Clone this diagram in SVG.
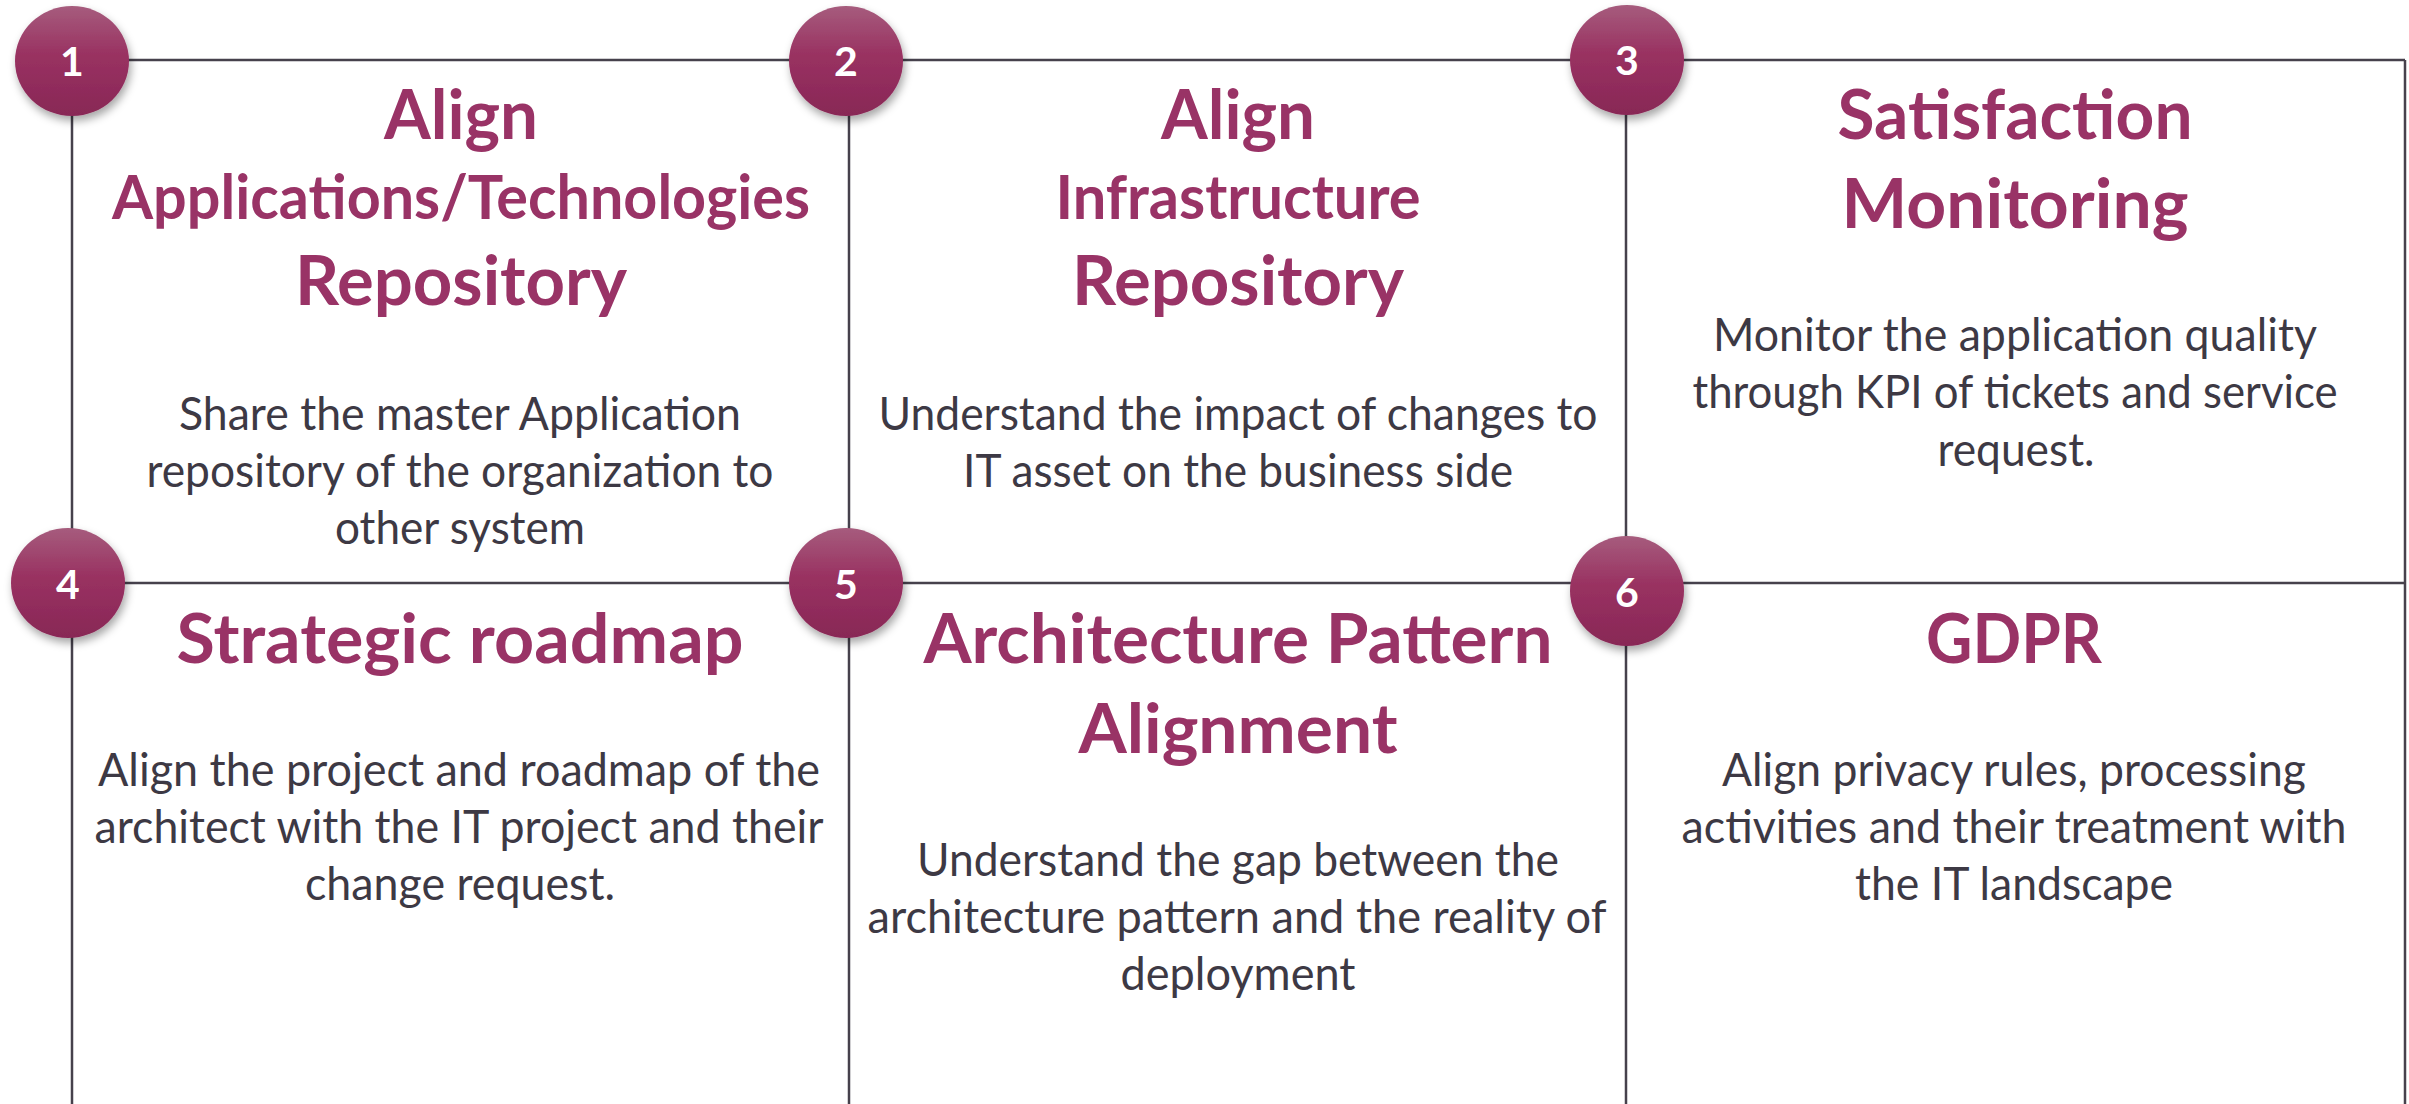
<svg xmlns="http://www.w3.org/2000/svg" width="2409" height="1104" viewBox="0 0 2409 1104">
<style>
.grid{stroke:#46414c;stroke-width:2.5;fill:none}
.t{font-family:Lato,"Liberation Sans",sans-serif;font-weight:bold;fill:#993366;text-anchor:middle}
.big{font-size:69px}
.mid{font-size:61px}
.body{font-family:Lato,"Liberation Sans",sans-serif;font-size:46px;fill:#3d3944;text-anchor:middle}
.num{font-family:Lato,"Liberation Sans",sans-serif;font-weight:bold;font-size:41px;fill:#ffffff;text-anchor:middle}
.badge{fill:url(#bg);filter:url(#sh)}
</style>
<defs>
<linearGradient id="bg" x1="0" y1="0" x2="0" y2="1">
<stop offset="0" stop-color="#a65c7d"/>
<stop offset="0.45" stop-color="#993161"/>
<stop offset="1" stop-color="#882856"/>
</linearGradient>
<filter id="sh" x="-30%" y="-30%" width="160%" height="170%">
<feDropShadow dx="2" dy="5" stdDeviation="4" flood-color="#000" flood-opacity="0.35"/>
</filter>
</defs>
<rect width="2409" height="1104" fill="#ffffff"/>
<g id="connectors">
<line class="grid" x1="72" y1="60" x2="2405" y2="60"/>
<line class="grid" x1="72" y1="583" x2="2405" y2="583"/>
<line class="grid" x1="72" y1="60" x2="72" y2="1104"/>
<line class="grid" x1="849" y1="60" x2="849" y2="1104"/>
<line class="grid" x1="1626" y1="60" x2="1626" y2="1104"/>
<line class="grid" x1="2405" y1="60" x2="2405" y2="1104"/>
</g>
<g id="node1">
<ellipse class="badge" cx="72" cy="61" rx="57" ry="55"/>
<text class="num" x="72" y="76">1</text>
<text class="t big" x="461" y="139" textLength="154" lengthAdjust="spacingAndGlyphs">Align</text>
<text class="t mid" x="461" y="219" textLength="698" lengthAdjust="spacingAndGlyphs">Applications/Technologies</text>
<text class="t big" x="461" y="305" textLength="332" lengthAdjust="spacingAndGlyphs">Repository</text>
<text class="body" x="460" y="430" textLength="562" lengthAdjust="spacingAndGlyphs">Share the master Application</text>
<text class="body" x="460" y="487" textLength="627" lengthAdjust="spacingAndGlyphs">repository of the organization to</text>
<text class="body" x="460" y="544" textLength="250" lengthAdjust="spacingAndGlyphs">other system</text>
</g>
<g id="node2">
<ellipse class="badge" cx="846" cy="61" rx="57" ry="55"/>
<text class="num" x="846" y="76">2</text>
<text class="t big" x="1238" y="139" textLength="154" lengthAdjust="spacingAndGlyphs">Align</text>
<text class="t mid" x="1238" y="219" textLength="365" lengthAdjust="spacingAndGlyphs">Infrastructure</text>
<text class="t big" x="1238" y="305" textLength="332" lengthAdjust="spacingAndGlyphs">Repository</text>
<text class="body" x="1238" y="430" textLength="719" lengthAdjust="spacingAndGlyphs">Understand the impact of changes to</text>
<text class="body" x="1238" y="487" textLength="550" lengthAdjust="spacingAndGlyphs">IT asset on the business side</text>
</g>
<g id="node3">
<ellipse class="badge" cx="1627" cy="60" rx="57" ry="55"/>
<text class="num" x="1627" y="75">3</text>
<text class="t big" x="2015" y="139" textLength="355" lengthAdjust="spacingAndGlyphs">Satisfaction</text>
<text class="t big" x="2015" y="228" textLength="347" lengthAdjust="spacingAndGlyphs">Monitoring</text>
<text class="body" x="2015" y="351" textLength="604" lengthAdjust="spacingAndGlyphs">Monitor the application quality</text>
<text class="body" x="2015" y="408" textLength="645" lengthAdjust="spacingAndGlyphs">through KPI of tickets and service</text>
<text class="body" x="2016" y="466" textLength="157" lengthAdjust="spacingAndGlyphs">request.</text>
</g>
<g id="node4">
<ellipse class="badge" cx="68" cy="583" rx="57" ry="55"/>
<text class="num" x="68" y="599">4</text>
<text class="t big" x="460" y="663" textLength="567" lengthAdjust="spacingAndGlyphs">Strategic roadmap</text>
<text class="body" x="459" y="786" textLength="722" lengthAdjust="spacingAndGlyphs">Align the project and roadmap of the</text>
<text class="body" x="459" y="843" textLength="729" lengthAdjust="spacingAndGlyphs">architect with the IT project and their</text>
<text class="body" x="460" y="900" textLength="310" lengthAdjust="spacingAndGlyphs">change request.</text>
</g>
<g id="node5">
<ellipse class="badge" cx="846" cy="583" rx="57" ry="55"/>
<text class="num" x="846" y="599">5</text>
<text class="t big" x="1238" y="663" textLength="629" lengthAdjust="spacingAndGlyphs">Architecture Pattern</text>
<text class="t big" x="1238" y="753" textLength="319" lengthAdjust="spacingAndGlyphs">Alignment</text>
<text class="body" x="1238" y="876" textLength="642" lengthAdjust="spacingAndGlyphs">Understand the gap between the</text>
<text class="body" x="1237" y="933" textLength="739" lengthAdjust="spacingAndGlyphs">architecture pattern and the reality of</text>
<text class="body" x="1238" y="990" textLength="235" lengthAdjust="spacingAndGlyphs">deployment</text>
</g>
<g id="node6">
<ellipse class="badge" cx="1627" cy="591" rx="57" ry="55"/>
<text class="num" x="1627" y="607">6</text>
<text class="t big" x="2014" y="663" textLength="176" lengthAdjust="spacingAndGlyphs">GDPR</text>
<text class="body" x="2014" y="786" textLength="584" lengthAdjust="spacingAndGlyphs">Align privacy rules, processing</text>
<text class="body" x="2014" y="843" textLength="665" lengthAdjust="spacingAndGlyphs">activities and their treatment with</text>
<text class="body" x="2014" y="900" textLength="318" lengthAdjust="spacingAndGlyphs">the IT landscape</text>
</g>
</svg>
